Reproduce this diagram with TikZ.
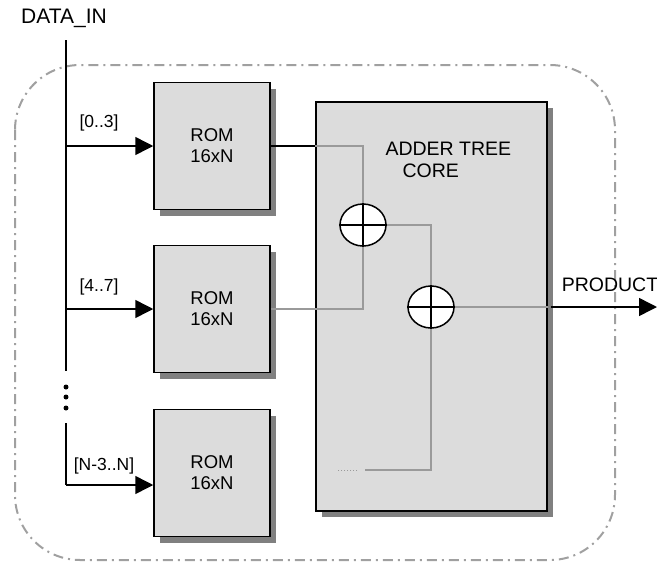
\documentclass[tikz,border=0pt]{standalone}
\usepackage{fontspec}
\setmainfont{Liberation Sans}
\usetikzlibrary{arrows.meta,shapes.geometric,shadows}
\definecolor{boxfill}{HTML}{DCDCDC}
\definecolor{shade}{HTML}{808080}
\definecolor{wiregray}{HTML}{9A9A9A}
\definecolor{framegray}{HTML}{A0A0A0}
\tikzset{
  blockshadow/.style={drop shadow={shadow xshift=6pt,shadow yshift=-6pt,fill=shade,opacity=1}},
  rombox/.style={draw,line width=1.5pt,fill=boxfill,minimum width=116pt,minimum height=127pt,
    align=center,blockshadow},
  corebox/.style={draw,line width=1.5pt,fill=boxfill,minimum width=231pt,minimum height=409pt,blockshadow},
  adder/.style={ellipse,draw,line width=1.5pt,fill=white,minimum width=46pt,minimum height=42pt,inner sep=0pt},
  bus/.style={line width=1.5pt},
  busarrow/.style={line width=1.5pt,-{Triangle[length=18pt,width=18pt]}},
  wire/.style={wiregray,line width=1.5pt},
  frame/.style={framegray,line width=2pt,dash pattern=on 10pt off 5pt on 2pt off 5pt,rounded corners=65pt},
  lbl/.style={font=\fontsize{17.5}{21}\selectfont},
  bigtxt/.style={font=\fontsize{19.5}{22}\selectfont}
}
\begin{document}
\begin{tikzpicture}[x=1pt,y=-1pt,font=\fontsize{18.5}{21}\selectfont]
  \useasboundingbox (0,0) rectangle (657,563);
  \draw[frame] (15,65) rectangle (615,560);
  % input bus
  \node[font=\fontsize{21}{24}\selectfont] (datain) at (64,18) {DATA\_IN};
  \coordinate (bustop) at (66,40);
  \coordinate (busbreak) at (66,371);
  \coordinate (busresume) at (66,423);
  \coordinate (busend) at (66,485);
  \draw[bus] (bustop) -- (busbreak);
  \draw[bus] (busresume) -- (busend);
  \foreach \y in {387,397,408} \fill (66,\y) circle (2.5pt);
  % ROM blocks
  \node[rombox] (rom1) at (212,146) {ROM\\16xN};
  \node[rombox] (rom2) at (212,309) {ROM\\16xN};
  \node[rombox] (rom3) at (212,473) {ROM\\16xN};
  \node[lbl] (l1) at (99,123) {[0..3]};
  \node[lbl] (l2) at (99,287) {[4..7]};
  \node[lbl] (l3) at (104,466) {[N-3..N]};
  \draw[busarrow] (bustop |- rom1.west) -- (rom1.west);
  \draw[busarrow] (bustop |- rom2.west) -- (rom2.west);
  \draw[busarrow] (busend) -- ([yshift=-12pt]rom3.west);
  % adder tree
  \node[corebox] (core) at (431.5,306.5) {};
  \node[bigtxt,align=left,anchor=north west] (coretxt) at (382,139) {ADDER TREE\\\hspace*{17pt}CORE};
  \node[adder] (add1) at (363,225) {};
  \node[adder] (add2) at (431,307) {};
  \coordinate (tail) at (365,470);
  \draw[bus] (rom1.east) -- (rom1.east -| core.west);
  \draw[wire] (rom1.east -| core.west) -| (add1.north);
  \draw[wire] (rom2.east) -| (add1.south);
  \draw[wire] (add1.east) -| (add2.north);
  \draw[wire] (add2.east) -- (add2.east -| core.east);
  \draw[wire] (add2.south) |- (tail);
  \draw[wire,line width=1pt,dotted] ([xshift=-8pt]tail) -- ++(-20,0);
  \foreach \a in {add1,add2} {
    \draw[line width=2pt] (\a.west) -- (\a.east);
    \draw[line width=2pt] (\a.north) -- (\a.south);
  }
  \coordinate (prodend) at (657,307);
  \draw[busarrow] ([xshift=3pt]add2.east -| core.east) -- (prodend);
  \node[bigtxt] (product) at (610,285) {PRODUCT};
\end{tikzpicture}
\end{document}
